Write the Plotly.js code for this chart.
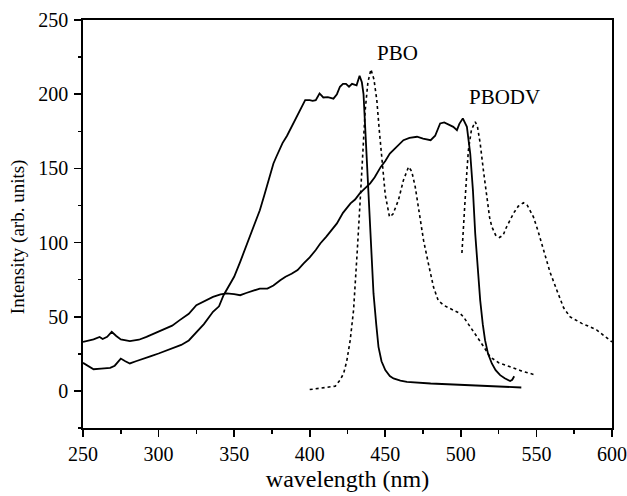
<!DOCTYPE html>
<html>
<head>
<meta charset="utf-8">
<script src="https://cdn.plot.ly/plotly-3.0.1.min.js"></script>
<style>html,body{margin:0;padding:0;background:#fff;}#chart{width:627px;height:496px;}</style>
</head>
<body>
<div id="chart"></div>
<script>
// PBO absorption (solid)
const pboAbsX = [250,253,257,262,268,271,275,278,281,285,290,295,300,305,310,315,320,325,330,336,340,343,346,350,354,357,361,364,367,370,373,376,378,380,382,385,388,391,394,397,400,402,404,406.5,409,412,415.7,418,420,422,424,426,428,431,433,434.5,435.6,437,438.9,440.5,442.2,444,445.5,447.5,450,453,455.4,460,464.3,480,500,520,540];
const pboAbsY = [18.9,17,14.6,15,15.5,17,21.8,20,18.5,20,22,23.5,25.2,27,29,31,34,39.8,45,53.3,57,64.5,70,76.9,87,94.9,105,113,121.8,132,142,153.3,158,163,167,172,178,185,191,196,196,195.5,196,200.5,197.8,198,197,200,205,207,207,205,207,206,212.4,208,200,170,133,100,65.7,45,29.7,20,14,10,8.4,7,6.1,5,4,3,2.3];

// PBODV absorption (solid)
const pbodvAbsX = [250,254,257,261,263,266,269,272,275,281,287,292,297,303,309,314,320,325,331,336,341,345,350,354,358,363,367,372,376,380.5,384,388,392,396,400,404,407,411,415,418,422,427,430,433,436,440,443,447,450,453,457,462,466,471,475,480,483,486.3,489,492.9,495,497.4,499,501.3,503,504,506.2,508,509.5,511,512.8,514.5,516,518,520.5,523,526,529,532.6,534,535.3];
const pbodvAbsY = [33,34,34.7,36.4,35,36.5,39.8,37,34.7,33.5,34.5,36.4,38.5,41,44,47.7,52,57.8,61,63.4,65,65.7,65.2,64.5,66,67.9,69,69,71,74.6,77,79,81.5,85.9,90,95,99.4,104,109,112.9,120,126.4,129,133,136,139.9,144,151,155,160,164,169,170.5,171.3,170,169,172,180.3,181,179.2,178,175.8,180,183.7,180,178,160,135,106,82,61,45,34.2,25,18.5,14,10.6,8.5,6.7,7.5,9.9];

// PBO emission (dotted)
const pboEmX = [400,405,410,416.9,420,422.4,424.5,426.8,429,430,431.5,433.4,435,436.7,438.5,440.5,442.5,444.4,446,447.7,450,452.8,455,458.7,462,465.4,467.5,469.8,472.5,475.3,478.5,481.9,485,488.5,492.9,499.5,501.7,505,510,515,519.4,525,532.6,540,549.8];
const pboEmY = [0.9,1.5,2,3.2,7.2,11.7,20,34.2,54.4,68,95,128.6,160,189,208,216.7,210,196,176,155.6,132,117.3,119,128.6,142,151,148,137.6,120,101.6,85.9,70,61,57.8,55.5,52.2,49.9,45,38,30,22.9,19,16.2,13.5,10.6];

// PBODV emission (dotted)
const pbodvEmX = [500.7,501.5,502.8,504,505,507,509.5,511,512.8,515,517.2,519,520.5,523,525.5,528,530,532.6,535,538,541.4,544,546,548,551,554.6,559,563.5,568,572.3,577,580,585.5,590,595,598.8,600];
const pbodvEmY = [93,110,128.6,148,162.3,176,181.4,178,166.8,148,128.6,117,110.6,105,103.4,105,110,115.1,120,124.5,126.8,125,121,117.3,108,94.9,80,67.9,56,49.9,47,45.5,43.2,41,37,34.2,33];

const xTicks = [250,300,350,400,450,500,550,600];
const xMinorTicks = [275,325,375,425,475,525,575];
const yTicks = [0,50,100,150,200,250];
const yMinorTicks = [-25,25,75,125,175,225];
const labels = ["PBO","PBODV"];
const labelX = [458.2,528.6];
const labelY = [227.9,198.2];
const yTitle = "Intensity (arb. units)";
const xTitle = "wavelength (nm)";

const FONT = "Liberation Serif, Times New Roman, serif";
const solid = {color:"#000", width:1.8};
const dotted = {color:"#000", width:1.6, dash:"dot"};

const traces = [
  {x:pboAbsX, y:pboAbsY, mode:"lines", line:solid, name:"PBO abs"},
  {x:pbodvAbsX, y:pbodvAbsY, mode:"lines", line:solid, name:"PBODV abs"},
  {x:pboEmX, y:pboEmY, mode:"lines", line:dotted, name:"PBO em"},
  {x:pbodvEmX, y:pbodvEmY, mode:"lines", line:dotted, name:"PBODV em"},
  // invisible trace on the minor-tick axes so they are drawn
  {x:[xTicks[0]], y:[yTicks[0]], xaxis:"x2", yaxis:"y2", mode:"markers", marker:{opacity:0}, hoverinfo:"skip"}
];

function axis(range, ticks, extra) {
  return Object.assign({
    range:range, tickmode:"array", tickvals:ticks, ticktext:ticks.map(String),
    showgrid:false, zeroline:false, showline:true, linecolor:"#000", linewidth:1.8,
    mirror:true, ticks:"outside", ticklen:7, tickwidth:1.6, tickcolor:"#000",
    tickfont:{family:FONT, size:20, color:"#000"}
  }, extra);
}
function minorAxis(range, ticks, extra) {
  return Object.assign({
    range:range, tickmode:"array", tickvals:ticks, showticklabels:false,
    showgrid:false, zeroline:false, showline:false,
    ticks:"outside", ticklen:4.5, tickwidth:1.5, tickcolor:"#000"
  }, extra);
}

const layout = {
  width:627, height:496,
  margin:{l:83, r:15, t:20, b:68},
  paper_bgcolor:"#fff", plot_bgcolor:"#fff",
  showlegend:false,
  font:{family:FONT, color:"#000"},
  xaxis:axis([250,600], xTicks, {
    ticklabelstandoff:0,
    title:{text:xTitle, font:{family:FONT, size:24, color:"#000"}, standoff:6}
  }),
  yaxis:axis([-25,250], yTicks, {ticklabelstandoff:2}),
  xaxis2:minorAxis([250,600], xMinorTicks, {overlaying:"x", side:"bottom", anchor:"y2"}),
  yaxis2:minorAxis([-25,250], yMinorTicks, {overlaying:"y", side:"left", anchor:"x2"}),
  annotations: labels.map((t,i)=>({x:labelX[i], y:labelY[i], xref:"x", yref:"y", text:t, showarrow:false,
    font:{family:FONT, size:21, color:"#000"}})).concat([
    {x:-0.123, y:0.47, xref:"paper", yref:"paper", text:yTitle, textangle:-90, showarrow:false,
     xanchor:"center", yanchor:"middle", font:{family:FONT, size:19, color:"#000"}}
  ])
};

Plotly.newPlot("chart", traces, layout, {displayModeBar:false, staticPlot:true});
</script>
</body>
</html>
